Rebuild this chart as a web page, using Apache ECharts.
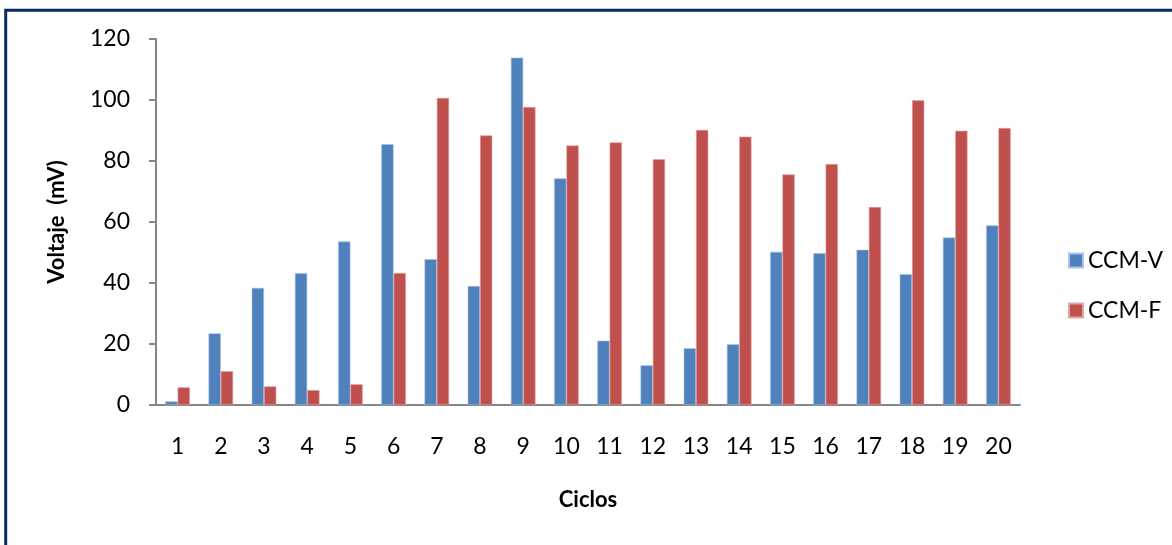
<!DOCTYPE html>
<html>
<head>
<meta charset="utf-8">
<script src="https://cdn.jsdelivr.net/npm/echarts@6/dist/echarts.min.js"></script>
<style>
html,body{margin:0;padding:0;background:#fff;}
#chart{width:1172px;height:545px;}
</style>
</head>
<body>
<div id="chart"></div>
<script>
const categories = ['1','2','3','4','5','6','7','8','9','10','11','12','13','14','15','16','17','18','19','20'];
const ccmV = [1.2, 23.5, 38.4, 43.2, 53.6, 85.5, 47.8, 39.0, 113.9, 74.3, 21.1, 13.0, 18.6, 19.9, 50.2, 49.8, 50.9, 42.9, 54.9, 58.9];
const ccmF = [5.8, 11.1, 6.1, 4.9, 6.8, 43.3, 100.7, 88.4, 97.7, 85.1, 86.1, 80.6, 90.2, 88.0, 75.6, 79.0, 64.9, 99.9, 89.9, 90.8];
const seriesNames = ['CCM-V', 'CCM-F'];
const xTitle = 'Ciclos';
const yTitle = 'Voltaje  (mV)';

const FONT = 'Lato';
const chart = echarts.init(document.getElementById('chart'));
chart.setOption({
  animation: false,
  backgroundColor: '#ffffff',
  textStyle: { fontFamily: FONT },
  graphic: [{
    type: 'rect',
    shape: { x: 5.7, y: 10.3, width: 1400, height: 800 },
    style: { fill: 'none', stroke: '#0d2a6b', lineWidth: 3 },
    silent: true
  }],
  grid: { left: 156, right: 152, top: 39, bottom: 140 },
  legend: {
    orient: 'vertical',
    left: 1063,
    top: 244,
    itemWidth: 14,
    itemHeight: 14,
    itemGap: 27,
    icon: 'rect',
    textStyle: { fontFamily: FONT, fontSize: 23, color: '#000', lineHeight: 20 },
    data: seriesNames
  },
  xAxis: {
    type: 'category',
    data: categories,
    name: xTitle,
    nameLocation: 'middle',
    nameGap: 84,
    nameTextStyle: { fontFamily: FONT, fontSize: 22, fontWeight: 'bold', color: '#000' },
    axisLine: { lineStyle: { color: '#868686', width: 2 } },
    axisTick: { show: false },
    axisLabel: { fontFamily: FONT, fontSize: 23, color: '#000', margin: 30 },
    splitLine: { show: false }
  },
  yAxis: {
    type: 'value',
    min: 0,
    max: 120,
    interval: 20,
    name: yTitle,
    nameLocation: 'middle',
    nameRotate: 90,
    nameGap: 88,
    nameTextStyle: { fontFamily: FONT, fontSize: 22, fontWeight: 'bold', color: '#000' },
    axisLine: { show: true, lineStyle: { color: '#868686', width: 2 } },
    axisTick: { show: true, length: 7, lineStyle: { color: '#868686', width: 2 } },
    axisLabel: { fontFamily: FONT, fontSize: 23, color: '#000', margin: 26 },
    splitLine: { show: false }
  },
  series: [
    {
      name: seriesNames[0],
      type: 'bar',
      data: ccmV,
      barWidth: 12.3,
      barGap: '0%',
      itemStyle: { color: '#4F81BD', borderColor: '#a9c1e0', borderWidth: 0.6 }
    },
    {
      name: seriesNames[1],
      type: 'bar',
      data: ccmF,
      barWidth: 12.3,
      barGap: '0%',
      itemStyle: { color: '#C0504D', borderColor: '#e3a5a3', borderWidth: 0.6 }
    }
  ]
});
</script>
</body>
</html>
